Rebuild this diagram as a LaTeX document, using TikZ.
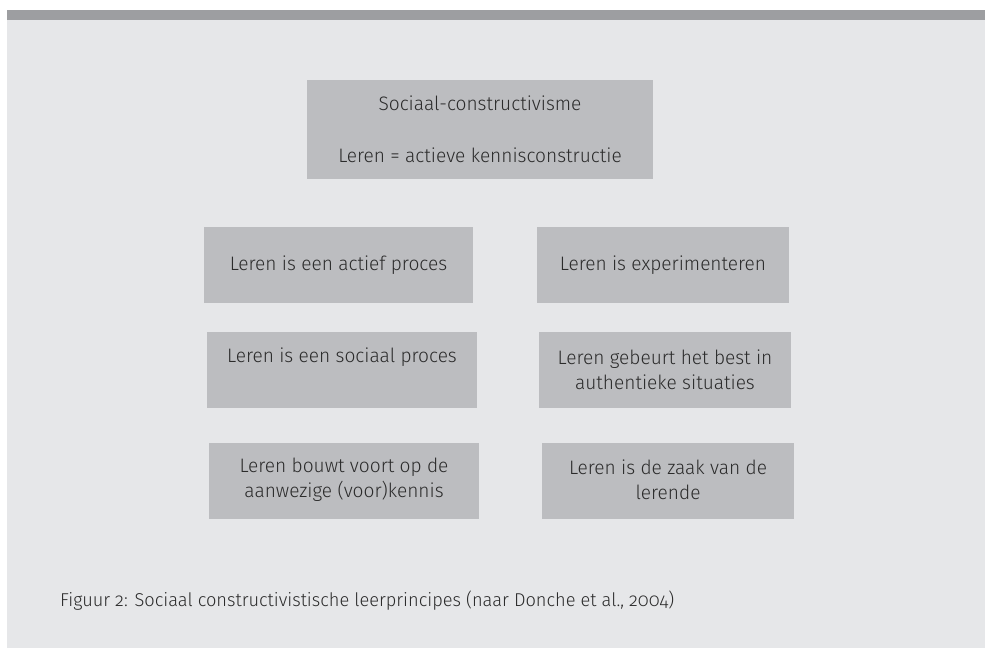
\documentclass[tikz,border=0pt]{standalone}
\usepackage{fontspec}
\setmainfont{Fira Sans}[UprightFont={* Light},FakeStretch=0.98,Numbers=OldStyle]
\definecolor{bgc}{HTML}{E6E7E9}
\definecolor{barc}{HTML}{9D9EA1}
\definecolor{boxc}{HTML}{BCBDC0}
\definecolor{txtc}{HTML}{2B2B2B}
\begin{document}
\begin{tikzpicture}[x=1pt,y=-1pt,
  boxst/.style={fill=boxc,draw=none},
  lbl/.style={text=txtc,inner sep=0pt,align=center,font=\fontsize{19.5}{25}\selectfont},
  captext/.style={text=txtc,inner sep=0pt,anchor=west,font=\fontsize{18.6}{22}\selectfont}]
\useasboundingbox (0,0) rectangle (985,648);
\fill[white] (0,0) rectangle (985,648);
\fill[bgc] (7,20) rectangle (985,648);
\fill[barc] (7,10) rectangle (985,19.5);
% boxes
\fill[boxst] (307,80) rectangle (653,179);
\fill[boxst] (204,227) rectangle (473,303);
\fill[boxst] (537,227) rectangle (789,303);
\fill[boxst] (207,332) rectangle (477,408);
\fill[boxst] (539,332) rectangle (791,408);
\fill[boxst] (209,443) rectangle (479,519);
\fill[boxst] (542,443) rectangle (794,519);
% texts
\node[lbl] (t1) at (480,103) {Sociaal-constructivisme};
\node[lbl] (t2) at (480,155) {Leren = actieve kennisconstructie};
\node[lbl] (a) at (338.5,265) {Leren is een actief proces};
\node[lbl] (b) at (663,265) {Leren is experimenteren};
\node[lbl] (c) at (342,357) {Leren is een sociaal proces};
\node[lbl] (d) at (665,369.5) {Leren gebeurt het best in\\authentieke situaties};
\node[lbl] (e) at (344,479.5) {Leren bouwt voort op de\\aanwezige (voor)kennis};
\node[lbl] (f) at (668,479.5) {Leren is de zaak van de\\lerende};
\node[captext] (g) at (60,601) {Figuur 2: Sociaal constructivistische leerprincipes (naar Donche et al., 2004)};
\end{tikzpicture}
\end{document}
